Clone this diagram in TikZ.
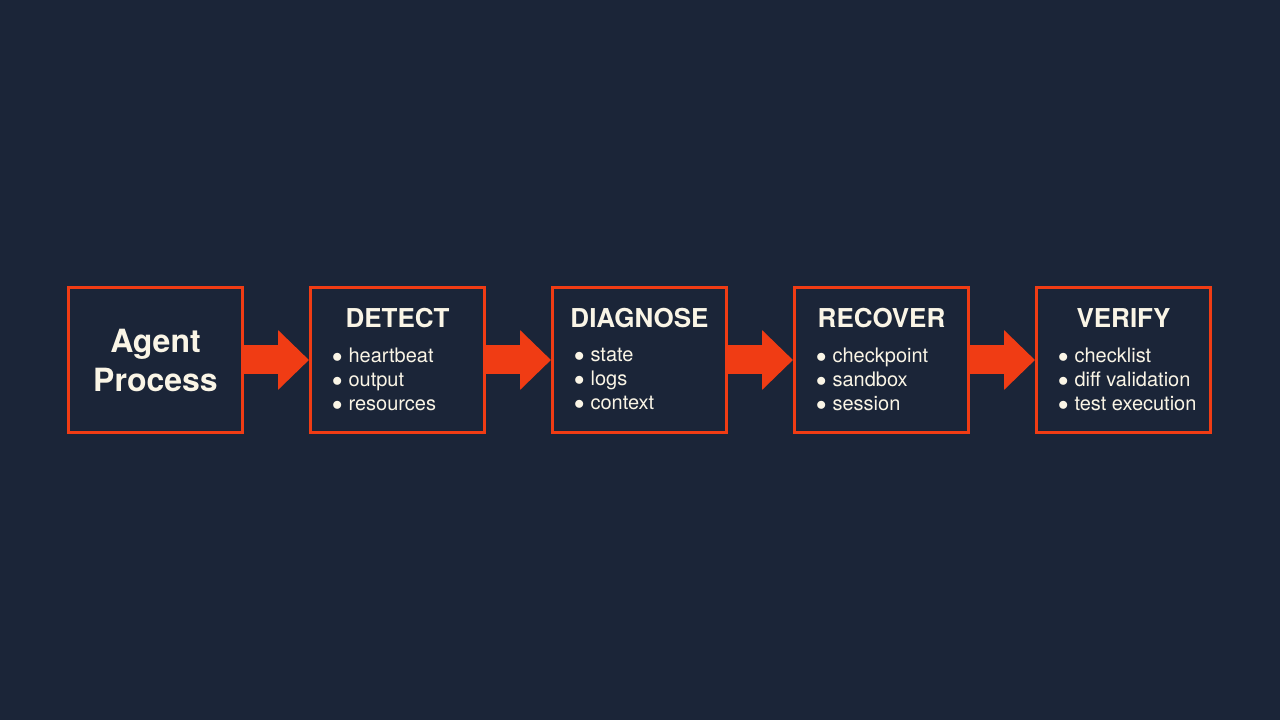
\documentclass[tikz,border=0pt]{standalone}
\usepackage{fontspec}
\setmainfont{TeX Gyre Heros}
\usepackage{xcolor}
\usetikzlibrary{positioning,arrows.meta}
\definecolor{bgnavy}{RGB}{27,37,56}
\definecolor{flame}{RGB}{240,60,20}
\definecolor{cream}{RGB}{250,245,230}
\tikzset{
  stagebox/.style={draw=flame,line width=3pt,minimum width=174pt,minimum height=145pt,inner sep=0pt},
  stagetitle/.style={text=cream,font=\fontsize{26}{30}\selectfont\bfseries,inner sep=0pt},
  stageitems/.style={text=cream,font=\fontsize{20}{24}\selectfont,align=left,inner sep=0pt,anchor=north west},
  flow/.style={flame,line width=29pt,-{Triangle[length=31pt,width=58pt]}}
}
\newcommand{\bul}{$\bullet$\hspace{6pt}}

\begin{document}
\begin{tikzpicture}[x=1pt,y=1pt]
\fill[bgnavy] (0,0) rectangle (1280,720);
\node[stagebox,text=cream,font=\fontsize{32}{39}\selectfont\bfseries,align=center] (agent) at (155.5,360) {Agent\\Process};
\node[stagebox,right=65pt of agent] (detect) {};
\node[stagebox,right=65pt of detect] (diagnose) {};
\node[stagebox,right=65pt of diagnose] (recover) {};
\node[stagebox,right=65pt of recover] (verify) {};

% titles
\node[stagetitle] (detecttitle) at ([yshift=-32pt]detect.north) {DETECT};
\node[stagetitle] (diagnosetitle) at ([yshift=-32pt]diagnose.north) {DIAGNOSE};
\node[stagetitle] (recovertitle) at ([yshift=-32pt]recover.north) {RECOVER};
\node[stagetitle] (verifytitle) at ([yshift=-32pt]verify.north) {VERIFY};

% items
\node[stageitems] (detectitems) at ([xshift=23pt,yshift=-62pt]detect.north west) {\bul heartbeat\\\bul output\\\bul resources};
\node[stageitems] (diagnoseitems) at ([xshift=23pt,yshift=-62pt]diagnose.north west) {\bul state\\\bul logs\\\bul context};
\node[stageitems] (recoveritems) at ([xshift=23pt,yshift=-62pt]recover.north west) {\bul checkpoint\\\bul sandbox\\\bul session};
\node[stageitems] (verifyitems) at ([xshift=23pt,yshift=-62pt]verify.north west) {\bul checklist\\\bul diff validation\\\bul test execution};

% arrows
\draw[flow] (agent) -- (detect);
\draw[flow] (detect) -- (diagnose);
\draw[flow] (diagnose) -- (recover);
\draw[flow] (recover) -- (verify);
\end{tikzpicture}
\end{document}
